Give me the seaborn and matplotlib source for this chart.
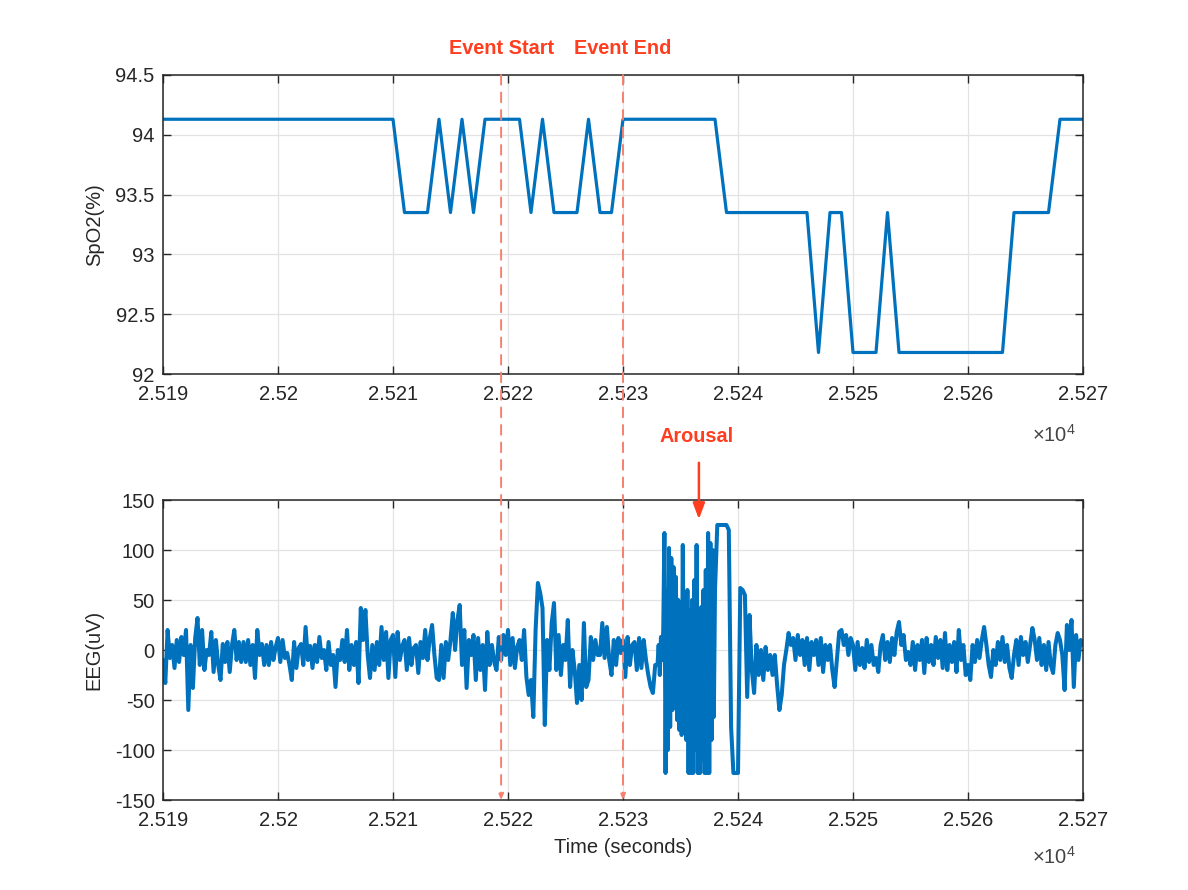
import numpy as np
import pandas as pd
import matplotlib
matplotlib.use("Agg")
import matplotlib.pyplot as plt
import matplotlib.transforms as mtransforms
from matplotlib.patches import ConnectionPatch
from matplotlib.ticker import FuncFormatter
import seaborn as sns

# ---------------- data ----------------
spo2_time = [25190, 25210, 25211, 25213, 25214, 25215, 25216, 25217, 25218, 25221,
             25222, 25223, 25224, 25226, 25227, 25228, 25229, 25230, 25238, 25239,
             25246, 25247, 25248, 25249, 25250, 25252, 25253, 25254, 25263, 25264,
             25267, 25268, 25270]
spo2_value = [94.13, 94.13, 93.35, 93.35, 94.13, 93.35, 94.13, 93.35, 94.13, 94.13,
              93.35, 94.13, 93.35, 93.35, 94.13, 93.35, 93.35, 94.13, 94.13, 93.35,
              93.35, 92.18, 93.35, 93.35, 92.18, 92.18, 93.35, 92.18, 92.18, 93.35,
              93.35, 94.13, 94.13]

# EEG segments: start time (s), sample step (s), values (uV)
eeg_seg_start = [25190, 25210, 25230, 25233, 25238, 25250]
eeg_seg_step = [0.2, 0.2, 0.2, 0.1, 0.2, 0.2]
eeg_seg1 = [-10, -33, 20, -8, 5,   -18, 10, -12, 13, -5,   20, -60, 5, -38, 12,
            32, -15, 20, -20, 0,   -5, 18, -22, 10, -15,   -30, 6, -12, 8, -22,
            5, 20, -10, 8, -12,    8, -12, 10, -15, 5,     -28, 20, -5, 6, -15,
            5, -15, 8, -10, 3,     12, -12, 10, -8, -3,    -15, -30, 8, -18, 2,
            6, -15, 23, -10, 4,    -18, 5, -12, 13, -8,    0, -20, 8, -15, -5,
            -37, 0, -10, 10, -12,  20, -20, 5, -15, 8,     -33, 42, 10, 40, -5,
            -28, 5, -20, 8, -15,   23, -10, 18, -28, 10]
eeg_seg2 = [15, -27, 18, -10, 4,   10, -20, 12, -15, 2,    5, -23, 8, -8, 20,
            -10, 12, 25, -5, -28,  -30, 5, -28, 8, -10,    10, 37, 0, 30, 45,
            -15, 20, -38, 10, -5,  15, -30, 12, -20, 5,    -40, 18, -15, 5, -12,
            -20, 13, -10, 15, -5,  20, -15, 12, -18, 3,    10, -10, 20, -27, -45,
            -30, -67, 20, 67, 57,  42, -75, 10, -20, 27,   47, -20, 15, -25, 5,
            -10, 30, -37, 0, -20,  -53, -15, -50, 27, -37, -30, 13, -10, 10, -5,
            -5, 27, -8, 23, -10,   -25, 10, -15, 12, -3]
eeg_seg3a = [10, -27, 13, -15, 5,  8, -20, 12, -18, 10,    -10, -25, -37, -43, -15]
eeg_burst = [-15, 5, -25, 13, -10,   20, 117, -123, 60, -100,
             102, -77, 92, -60, 83,  -50, 73, -70, 50, -80,
             45, -85, 105, -60, 55,  -90, 60, -123, 40, -123,
             50, -123, 70, -100, 105, -123, 40, -123, 43, -110,
             60, -123, 80, -123, 117, -123, 107, -90, 100, -67]
eeg_seg3b = [60, 125, 125, 125, 125,  125, 120, -77, -123, -123,
             -123, 62, 60, 55, -47,   35, -20, -43, 5, -25,
             0, -30, 3, -20, -5,      -25, -5, -35, -60, -45,
             -15, 0, 17, 5, 12,       -10, 15, -5, 10, -15,
             12, -20, 8, -5, 10,      -15, 12, -22, 5, -10,
             5, -20, -37, -10, 18,    20, 5, 15, -5, 12]
eeg_seg4 = [5, -20, 8, -15, 2,     -18, 10, -12, 5, -15,   -8, -22, 5, 15, -10,
            8, -12, 12, -5, 18,    28, 5, 15, -10, -2,     -15, 8, -20, 5, -10,
            10, -23, 12, -12, 5,   -15, 13, -8, 10, -18,   17, -20, 5, -12, 8,
            -22, 20, -10, 5, -25,  -15, -30, 5, -12, 10,   -8, 10, 23, 5, -15,
            -27, 0, -15, 8, -10,   13, -12, 5, -18, -28,   -5, 10, -15, 13, -5,
            8, -12, 5, 22, 10,     -10, 12, -15, 5, -20,   8, -15, -23, 5, 17,
            10, -5, -40, 25, 0,    30, -37, 15, -10, 10,   5]

event_times = [25219.4, 25230.0]
event_labels = ["Event Start", "Event End"]
arousal_time = 25236.6
arousal_label = "Arousal"

x_ticks = [25190, 25200, 25210, 25220, 25230, 25240, 25250, 25260, 25270]
spo2_ticks = [92, 92.5, 93, 93.5, 94, 94.5]
eeg_ticks = [-150, -100, -50, 0, 50, 100, 150]

# ---------------- frames ----------------
eeg_segs = [eeg_seg1, eeg_seg2, eeg_seg3a, eeg_burst, eeg_seg3b, eeg_seg4]
eeg_t, eeg_v = [], []
for st, dt, vals in zip(eeg_seg_start, eeg_seg_step, eeg_segs):
    eeg_t.extend(st + dt * np.arange(len(vals)))
    eeg_v.extend(vals)
eeg_df = pd.DataFrame({"time": eeg_t, "eeg": eeg_v})
spo2_df = pd.DataFrame({"time": spo2_time, "spo2": spo2_value})

# ---------------- style ----------------
sns.set_theme(style="ticks")
plt.rcParams["font.family"] = ["Liberation Sans", "DejaVu Sans"]
plt.rcParams["mathtext.fontset"] = "custom"
plt.rcParams["mathtext.rm"] = "Liberation Sans"

LINE = "#0072BD"
RED = "#FF3D1F"
DASH = "#F6806F"
AX = "#262626"
GRID = "#E3E3E3"
FS = 14.5

fig = plt.figure(figsize=(11.88, 8.90), dpi=100)
ax1 = fig.add_axes([163 / 1188, 1 - 374 / 890, 920 / 1188, 299 / 890])
ax2 = fig.add_axes([163 / 1188, 1 - 800 / 890, 920 / 1188, 300 / 890])

sns.lineplot(data=spo2_df, x="time", y="spo2", ax=ax1, color=LINE,
             linewidth=2.3, estimator=None, sort=False)
sns.lineplot(data=eeg_df, x="time", y="eeg", ax=ax2, color=LINE,
             linewidth=2.9, estimator=None, sort=False)

fmt = FuncFormatter(lambda v, p: f"{v / 1e4:g}")
for ax, yt, ylab in [(ax1, spo2_ticks, "SpO2(%)"), (ax2, eeg_ticks, "EEG(uV)")]:
    ax.set_xlim(x_ticks[0], x_ticks[-1])
    ax.set_ylim(yt[0], yt[-1])
    ax.set_xticks(x_ticks)
    ax.set_yticks(yt)
    ax.xaxis.set_major_formatter(fmt)
    ax.yaxis.set_major_formatter(FuncFormatter(lambda v, p: f"{v:g}"))
    ax.grid(True, color=GRID, linewidth=0.9)
    ax.set_axisbelow(True)
    ax.tick_params(direction="in", length=6, width=1.0, color=AX,
                   labelsize=FS, labelcolor=AX, top=True, right=True)
    ax.tick_params(axis="x", pad=8)
    ax.tick_params(axis="y", pad=6)
    for s in ax.spines.values():
        s.set_visible(True)
        s.set_color(AX)
        s.set_linewidth(1.1)
    ax.set_ylabel(ylab, fontsize=FS, color=AX, labelpad=8)
    ax.set_xlabel("")
    ax.text(0.945, -0.205 if ax is ax1 else -0.19, r"$\times10^{4}$",
            transform=ax.transAxes, fontsize=FS, color="#444444", ha="left", va="center")

ax2.set_xlabel("Time (seconds)", fontsize=FS, color=AX, labelpad=6)

# event lines spanning both panels
for t, lab in zip(event_times, event_labels):
    con = ConnectionPatch(xyA=(t, spo2_ticks[-1]), coordsA=ax1.transData,
                          xyB=(t, eeg_ticks[0]), coordsB=ax2.transData,
                          arrowstyle="-|>,head_length=0.35,head_width=0.15",
                          linestyle=(0, (5, 4)), color=DASH, linewidth=1.4,
                          zorder=5)
    fig.add_artist(con)
    trans = mtransforms.blended_transform_factory(ax1.transData, ax1.transAxes)
    ax1.text(t, 1.09, lab, transform=trans, ha="center", va="center",
             color=RED, fontsize=14.3, fontweight="bold")

# arousal annotation
ax2.annotate("", xy=(arousal_time, 128), xytext=(arousal_time, 190),
             xycoords="data", textcoords="data", annotation_clip=False,
             arrowprops=dict(arrowstyle="-|>,head_length=0.8,head_width=0.3",
                             color=RED, linewidth=1.8))
ax2.text(arousal_time - 0.2, 213, arousal_label, ha="center", va="center",
         color=RED, fontsize=14.3, fontweight="bold", clip_on=False)

fig.savefig("out.png", dpi=100, facecolor="white")
